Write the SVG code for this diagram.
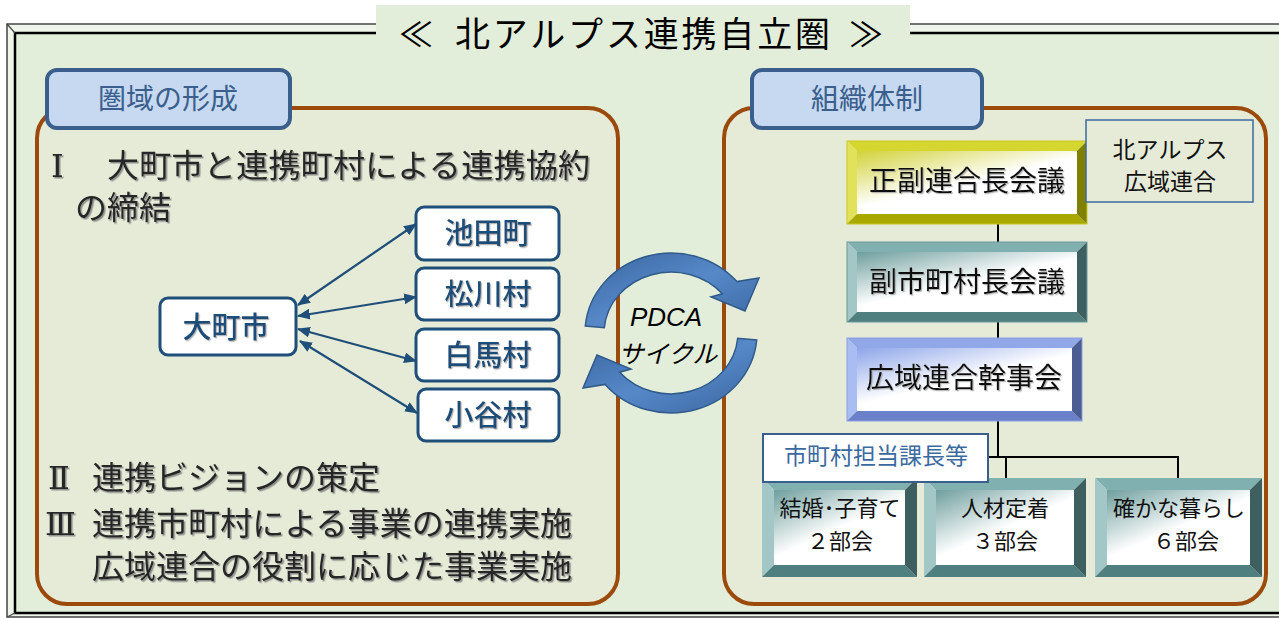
<svg xmlns="http://www.w3.org/2000/svg" width="1279" height="619" viewBox="0 0 1279 619">
<defs>
<style>
.jp{font-family:"Noto Sans CJK JP","Noto Sans CJK SC",sans-serif;}
.rn{font-family:"DejaVu Serif","Liberation Serif","Noto Sans CJK JP",serif;font-size:32px;fill:#262626;filter:url(#sh);}
.lt{font-size:32px;fill:#262626;filter:url(#sh);}
.hdr{fill:#c6d9f1;stroke:#3b5f8c;stroke-width:4;}
.hdrt{font-size:28px;fill:#3b5f8c;text-anchor:middle;}
.panel{fill:#e6ebd8;stroke:#9b4a0b;stroke-width:4;}
.node{fill:#ffffff;stroke:#1f4e79;stroke-width:3;}
.nt{font-size:29px;font-weight:500;fill:#1f4e79;text-anchor:middle;filter:url(#sh2);}
.arr{stroke:#1f4e79;stroke-width:2.2;fill:none;marker-start:url(#ah);marker-end:url(#ah);}
.con{stroke:#000;stroke-width:2;fill:none;}
.bt{font-size:28px;fill:#111;text-anchor:middle;filter:url(#sh2);}
.st{font-size:22px;fill:#111;text-anchor:middle;}
</style>
<filter id="sh" x="-5%" y="-20%" width="110%" height="140%"><feDropShadow dx="1.5" dy="1.5" stdDeviation="0.6" flood-color="#777" flood-opacity="0.8"/></filter>
<filter id="sh2" x="-5%" y="-20%" width="110%" height="140%"><feDropShadow dx="1.2" dy="1.2" stdDeviation="0.5" flood-color="#999" flood-opacity="0.7"/></filter>
<marker id="ah" viewBox="0 0 12 10" refX="11" refY="5" markerWidth="13" markerHeight="11" markerUnits="userSpaceOnUse" orient="auto-start-reverse"><path d="M0,0 L12,5 L0,10 Z" fill="#1f4e79"/></marker>
<linearGradient id="gY" x1="0" y1="0" x2="0.8" y2="1"><stop offset="0" stop-color="#d2d23a"/><stop offset="0.55" stop-color="#ffffff"/><stop offset="1" stop-color="#ffffff"/></linearGradient>
<linearGradient id="gT" x1="0" y1="0" x2="0.8" y2="1"><stop offset="0" stop-color="#6f9e9e"/><stop offset="0.55" stop-color="#ffffff"/><stop offset="1" stop-color="#ffffff"/></linearGradient>
<linearGradient id="gB" x1="0" y1="0" x2="0.8" y2="1"><stop offset="0" stop-color="#8ea6ea"/><stop offset="0.55" stop-color="#ffffff"/><stop offset="1" stop-color="#ffffff"/></linearGradient>
<linearGradient id="gP" x1="0" y1="0" x2="1" y2="1"><stop offset="0" stop-color="#3a66a0"/><stop offset="0.5" stop-color="#5688c8"/><stop offset="1" stop-color="#3a66a0"/></linearGradient>
</defs>
<rect x="0" y="0" width="1279" height="619" fill="#ffffff"/>
<g id="frame">
<rect x="7" y="24" width="1300" height="593" fill="#eef5ea" stroke="#444" stroke-width="1.5"/>
<rect x="15" y="33" width="1300" height="580" fill="#e2eed9" stroke="#000" stroke-width="2.5"/>
<line x1="7" y1="24" x2="15" y2="33" stroke="#444" stroke-width="1.2"/>
<line x1="7" y1="617" x2="15" y2="613" stroke="#444" stroke-width="1.2"/>
</g>
<g id="title">
<rect x="376" y="5" width="534" height="40" fill="#e2eed9"/>
<text class="jp" x="399" y="47" font-size="34" fill="#000">≪</text>
<text class="jp" x="455" y="47" font-size="35" fill="#000" textLength="375" lengthAdjust="spacing">北アルプス連携自立圏</text>
<text class="jp" x="849" y="47" font-size="34" fill="#000">≫</text>
</g>
<g id="left-panel">
<rect class="panel" x="37" y="108" width="581" height="496" rx="30"/>
<text class="rn" x="51" y="177">Ⅰ</text>
<text class="jp lt" x="107" y="177" textLength="483" lengthAdjust="spacing">大町市と連携町村による連携協約</text>
<text class="jp lt" x="75" y="219" textLength="96" lengthAdjust="spacing">の締結</text>
<text class="rn" x="48" y="489">Ⅱ</text>
<text class="jp lt" x="92" y="489" textLength="288" lengthAdjust="spacing">連携ビジョンの策定</text>
<text class="rn" x="45" y="535">Ⅲ</text>
<text class="jp lt" x="92" y="535" textLength="480" lengthAdjust="spacing">連携市町村による事業の連携実施</text>
<text class="jp lt" x="92" y="578" textLength="480" lengthAdjust="spacing">広域連合の役割に応じた事業実施</text>
</g>
<g id="hdr-left">
<rect class="hdr" x="47" y="70" width="243" height="58" rx="10"/>
<text class="jp hdrt" x="168" y="109">圏域の形成</text>
</g>
<g id="right-panel">
<rect class="panel" x="724" y="108" width="542" height="496" rx="30"/>
</g>
<g id="hdr-right">
<rect class="hdr" x="752" y="70" width="230" height="58" rx="10"/>
<text class="jp hdrt" x="867" y="109">組織体制</text>
</g>
<g id="connectors">
<line class="arr" x1="298" y1="305" x2="416" y2="224"/>
<line class="arr" x1="298" y1="316" x2="416" y2="297"/>
<line class="arr" x1="298" y1="329" x2="416" y2="361"/>
<line class="arr" x1="300" y1="341" x2="417" y2="413"/>
<line class="con" x1="998" y1="224" x2="998" y2="242"/>
<line class="con" x1="998" y1="322" x2="998" y2="338"/>
<line class="con" x1="998" y1="421" x2="998" y2="457"/>
<line class="con" x1="985" y1="457" x2="1179" y2="457"/>
<line class="con" x1="1006" y1="457" x2="1006" y2="478"/>
<line class="con" x1="1178" y1="457" x2="1178" y2="478"/>
</g>
<g id="n-omachi"><rect class="node" x="160" y="298" width="136" height="57" rx="8"/><text class="jp nt" x="226" y="338">大町市</text></g>
<g id="n-ikeda"><rect class="node" x="416" y="207" width="143" height="53" rx="8"/><text class="jp nt" x="488" y="244">池田町</text></g>
<g id="n-matsukawa"><rect class="node" x="416" y="268" width="143" height="52" rx="8"/><text class="jp nt" x="488" y="305">松川村</text></g>
<g id="n-hakuba"><rect class="node" x="416" y="329" width="143" height="52" rx="8"/><text class="jp nt" x="488" y="366">白馬村</text></g>
<g id="n-otari"><rect class="node" x="418" y="389" width="141" height="52" rx="8"/><text class="jp nt" x="488" y="426">小谷村</text></g>
<g id="pdca">
<path d="M585.3,326 A86,80 0 0 1 736.9,281.6 L759,278 L745,311 L711,297 L722.3,293.8 A67,61 0 0 0 604.3,327.7 Z" fill="url(#gP)" stroke="#2f5a8a" stroke-width="1.5"/>
<path d="M585.3,326 A86,80 0 0 1 736.9,281.6 L759,278 L745,311 L711,297 L722.3,293.8 A67,61 0 0 0 604.3,327.7 Z" fill="url(#gP)" stroke="#2f5a8a" stroke-width="1.5" transform="rotate(180 671 333)"/>
<text x="666" y="326" font-size="26" font-style="italic" fill="#000" text-anchor="middle" font-family="'Liberation Sans','Noto Sans CJK JP',sans-serif">PDCA</text>
<text class="jp" x="668" y="363" font-size="25" font-style="italic" fill="#000" text-anchor="middle">サイクル</text>
</g>
<g id="n-seifuku">
<polygon points="847,141 1087,141 1077,151 857,151" fill="#d6d630"/>
<polygon points="847,141 857,151 857,214 847,224" fill="#e2e25a"/>
<polygon points="847,224 857,214 1077,214 1087,224" fill="#a8a800"/>
<polygon points="1087,141 1087,224 1077,214 1077,151" fill="#7f7f00"/>
<rect x="857" y="151" width="220" height="63" fill="url(#gY)"/>
<rect x="847" y="141" width="240" height="83" fill="none" stroke="#c8c820" stroke-width="1"/>
<text class="jp bt" x="967" y="191">正副連合長会議</text>
</g>
<g id="n-kouiki-label">
<rect x="1086" y="120" width="167" height="82" fill="#e6ebd8" stroke="#3b6aa0" stroke-width="1.5"/>
<text class="jp" x="1170" y="158" font-size="23" fill="#111" text-anchor="middle">北アルプス</text>
<text class="jp" x="1170" y="190" font-size="23" fill="#111" text-anchor="middle">広域連合</text>
</g>
<g id="n-fuku">
<polygon points="847,242 1087,242 1077,252 857,252" fill="#80b0b0"/>
<polygon points="847,242 857,252 857,312 847,322" fill="#a3c7c7"/>
<polygon points="847,322 857,312 1077,312 1087,322" fill="#4f7f7f"/>
<polygon points="1087,242 1087,322 1077,312 1077,252" fill="#3e5f5f"/>
<rect x="857" y="252" width="220" height="60" fill="url(#gT)"/>
<rect x="847" y="242" width="240" height="80" fill="none" stroke="#6a9a9a" stroke-width="1"/>
<text class="jp bt" x="967" y="292">副市町村長会議</text>
</g>
<g id="n-kanji">
<polygon points="847,338 1082,338 1072,348 857,348" fill="#90a8e8"/>
<polygon points="847,338 857,348 857,411 847,421" fill="#a9bdf2"/>
<polygon points="847,421 857,411 1072,411 1082,421" fill="#6a80c8"/>
<polygon points="1082,338 1082,421 1072,411 1072,348" fill="#4b5d91"/>
<rect x="857" y="348" width="215" height="63" fill="url(#gB)"/>
<rect x="847" y="338" width="235" height="83" fill="none" stroke="#8aa0e0" stroke-width="1"/>
<text class="jp bt" x="964" y="388">広域連合幹事会</text>
</g>
<g id="n-kekkon">
<polygon points="762,478 917,478 905,490 774,490" fill="#80b0b0"/>
<polygon points="762,478 774,490 774,565 762,577" fill="#a3c7c7"/>
<polygon points="762,577 774,565 905,565 917,577" fill="#4f7f7f"/>
<polygon points="917,478 917,577 905,565 905,490" fill="#3e5f5f"/>
<rect x="774" y="490" width="131" height="75" fill="url(#gT)"/>
<text class="jp st" x="840" y="516">結婚･子育て</text>
<text class="jp st" x="840" y="549">２部会</text>
</g>
<g id="n-jinzai">
<polygon points="924,478 1086,478 1074,490 936,490" fill="#80b0b0"/>
<polygon points="924,478 936,490 936,565 924,577" fill="#a3c7c7"/>
<polygon points="924,577 936,565 1074,565 1086,577" fill="#4f7f7f"/>
<polygon points="1086,478 1086,577 1074,565 1074,490" fill="#3e5f5f"/>
<rect x="936" y="490" width="138" height="75" fill="url(#gT)"/>
<text class="jp st" x="1005" y="516">人材定着</text>
<text class="jp st" x="1005" y="549">３部会</text>
</g>
<g id="n-kurashi">
<polygon points="1095,478 1262,478 1250,490 1107,490" fill="#80b0b0"/>
<polygon points="1095,478 1107,490 1107,565 1095,577" fill="#a3c7c7"/>
<polygon points="1095,577 1107,565 1250,565 1262,577" fill="#4f7f7f"/>
<polygon points="1262,478 1262,577 1250,565 1250,490" fill="#3e5f5f"/>
<rect x="1107" y="490" width="143" height="75" fill="url(#gT)"/>
<text class="jp st" x="1179" y="516">確かな暮らし</text>
<text class="jp st" x="1186" y="549">６部会</text>
</g>
<g id="n-kachou">
<rect x="763" y="434" width="225" height="48" fill="#ffffff" stroke="#3b5f8c" stroke-width="2"/>
<text class="jp" x="876" y="464" font-size="23" fill="#3b6aa0" text-anchor="middle">市町村担当課長等</text>
</g>
</svg>
